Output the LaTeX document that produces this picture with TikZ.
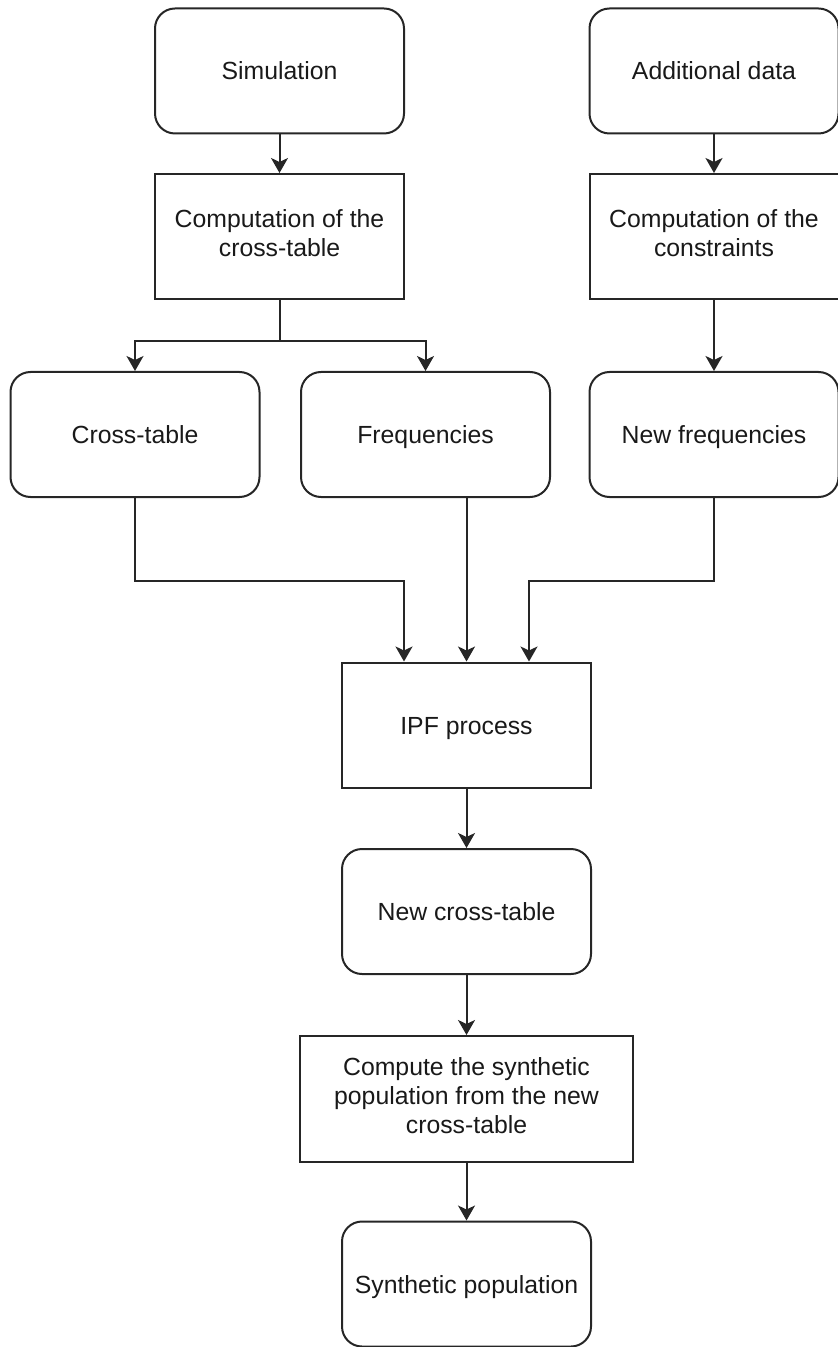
\documentclass[tikz,border=0pt]{standalone}
\usepackage{fontspec}
\setmainfont{Liberation Sans}
\usetikzlibrary{arrows.meta}
\newcommand\boxstrut{\rule[-3.6pt]{0pt}{16.2pt}}
\begin{document}
\begin{tikzpicture}[x=0.5pt,y=-0.5pt,
  box/.style={draw=black!85,line width=1pt,align=center,text=black!90,
    font=\fontsize{12.4}{14.5}\selectfont,inner sep=0pt,
    execute at begin node=\boxstrut, execute at end node=\boxstrut},
  rbox/.style={box,rounded corners=10pt},
  sbox/.style={box,minimum width=124.5pt,minimum height=62.5pt},
  arr/.style={draw=black!85,line width=1pt,-{Stealth[length=7.5pt,width=8.5pt,inset=2pt]}},
  ln/.style={draw=black!85,line width=1pt}]
\useasboundingbox (0,0) rectangle (837,1347);
\node[sbox,rbox] (sim) at (279.5,71) {Simulation};
\node[sbox,rbox] (add) at (714,71) {Additional data};
\node[sbox] (cc) at (279.5,236.5) {Computation of the\\cross-table};
\node[sbox] (con) at (714,236.5) {Computation of the\\constraints};
\node[sbox,rbox] (ct) at (135,434.5) {Cross-table};
\node[sbox,rbox] (fr) at (425.5,434.5) {Frequencies};
\node[sbox,rbox] (nf) at (714,434.5) {New frequencies};
\node[sbox] (ipf) at (466.5,725) {IPF process};
\node[sbox,rbox] (nc) at (466.5,911.5) {New cross-table};
\node[box,minimum width=166.5pt,minimum height=63pt] (cs) at (466.5,1099) {Compute the synthetic\\population from the new\\cross-table};
\node[sbox,rbox] (sp) at (466.5,1284) {Synthetic population};
\draw[arr] (sim) -- (cc);
\draw[arr] (add) -- (con);
\draw[arr] (con) -- (nf);
\coordinate (b) at (279.5,341);
\draw[ln] (cc.south) -- (b);
\draw[arr] (b) -| (ct.north);
\draw[arr] (b) -| (fr.north);
\coordinate (j1) at (404,581);
\coordinate (j2) at (529,581);
\draw[arr] (ct.south) |- (j1) -- (j1 |- ipf.north);
\draw[arr] (nf.south) |- (j2) -- (j2 |- ipf.north);
\draw[arr] (fr.south -| ipf.north) -- (ipf.north);
\draw[arr] (ipf) -- (nc);
\draw[arr] (nc) -- (cs);
\draw[arr] (cs) -- (sp);
\end{tikzpicture}
\end{document}
